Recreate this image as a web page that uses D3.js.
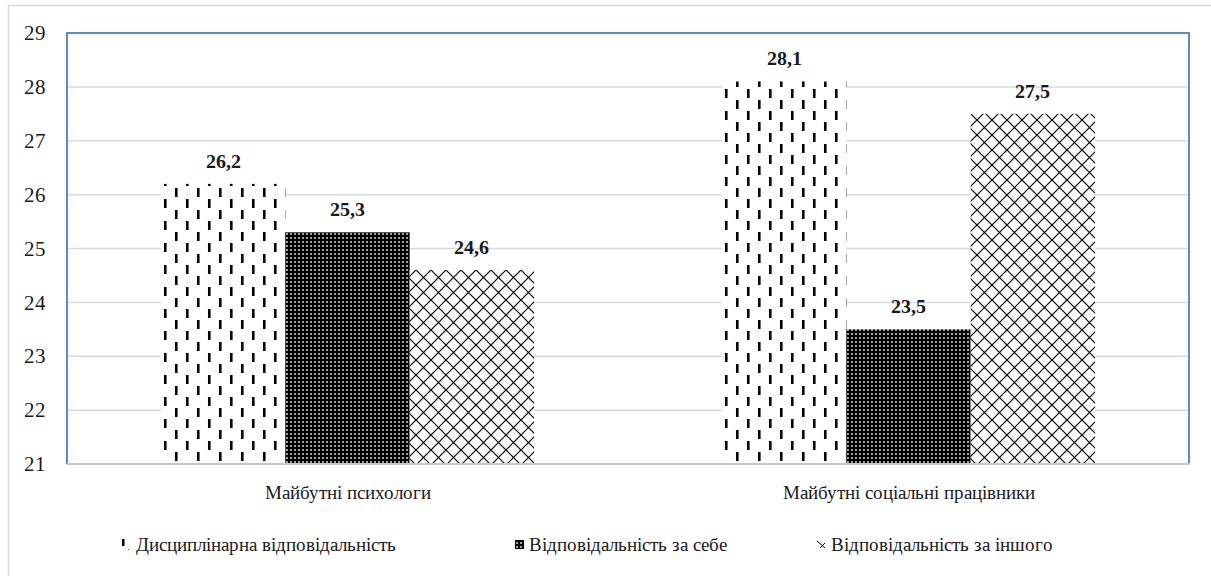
<!DOCTYPE html>
<html><head><meta charset="utf-8">
<script src="https://cdn.jsdelivr.net/npm/d3@7"></script>
<style>
@font-face { font-family: "ChartSerif"; src: local("Liberation Serif"), local("LiberationSerif"), local("Tinos"), local("Times New Roman"); font-weight: 400; }
@font-face { font-family: "ChartSerif"; src: local("Liberation Serif Bold"), local("LiberationSerif-Bold"), local("Tinos Bold"), local("Times New Roman Bold"); font-weight: 700; }
</style>
</head>
<body style="margin:0;background:#fff"><svg id="c" width="1211" height="576"></svg>
<script>
const categories = ["Майбутні психологи", "Майбутні соціальні працівники"];
const seriesNames = ["Дисциплінарна відповідальність", "Відповідальність за себе", "Відповідальність за іншого"];
const discipline = [26.2, 28.1];
const selfResp = [25.3, 23.5];
const otherResp = [24.6, 27.5];
const yTicks = [21, 22, 23, 24, 25, 26, 27, 28, 29];

const seriesValues = [discipline, selfResp, otherResp];
const fmt = v => v.toFixed(1).replace(".", ",");
const FONT = "ChartSerif, 'Liberation Serif', Tinos, 'Times New Roman', serif";

const svg = d3.select("#c");
const m = {left: 67, right: 1189, top: 33, bottom: 464};

// patterns
const defs = svg.append("defs");
const p1 = defs.append("pattern").attr("id","pDash").attr("patternUnits","userSpaceOnUse")
  .attr("width",22).attr("height",22).attr("x",2).attr("y",0);
p1.append("rect").attr("width",22).attr("height",22).attr("fill","#fff");
p1.append("rect").attr("x",1).attr("y",1).attr("width",2.6).attr("height",9).attr("fill","#000");
p1.append("rect").attr("x",12).attr("y",12).attr("width",2.6).attr("height",9).attr("fill","#000");

const p2 = defs.append("pattern").attr("id","pDots").attr("patternUnits","userSpaceOnUse")
  .attr("width",4).attr("height",4);
p2.append("rect").attr("width",4).attr("height",4).attr("fill","#000");
p2.append("rect").attr("x",1.2).attr("y",1.2).attr("width",1.6).attr("height",1.6).attr("fill","#fff");

const p3 = defs.append("pattern").attr("id","pCross").attr("patternUnits","userSpaceOnUse")
  .attr("width",15).attr("height",15);
p3.append("rect").attr("width",15).attr("height",15).attr("fill","#fff");
p3.append("path").attr("d","M0,0L15,15M15,0L0,15M-1,14L1,16M14,-1L16,1")
  .attr("stroke","#000").attr("stroke-width",1.2).attr("fill","none");

const fills = ["url(#pDash)", "url(#pDots)", "url(#pCross)"];

// outer frame
svg.append("rect").attr("x",8.5).attr("y",5.5).attr("width",1240).attr("height",600)
  .attr("fill","none").attr("stroke","#d9d9d9").attr("stroke-width",1.5);

const x0 = d3.scaleBand().domain(categories).range([m.left, m.right])
  .paddingInner(0.335).paddingOuter(0.335/2);
const x1 = d3.scaleBand().domain(d3.range(seriesNames.length)).range([0, x0.bandwidth()]).padding(0);
const y = d3.scaleLinear().domain([21, 29]).range([m.bottom, m.top]);

// gridlines
svg.append("g").selectAll("line").data(yTicks.filter(t => t > 21 && t < 29)).join("line")
  .attr("x1", m.left).attr("x2", m.right)
  .attr("y1", d => y(d)).attr("y2", d => y(d))
  .attr("stroke","#d9d9d9").attr("stroke-width",1.5);

// y axis labels
const yAxis = d3.axisLeft(y).tickValues(yTicks).tickSize(0).tickPadding(21).tickFormat(d3.format("d"));
const ga = svg.append("g").attr("transform",`translate(${m.left},0)`).call(yAxis)
  .attr("font-family", null).attr("font-size", null);
ga.select(".domain").remove();
ga.selectAll("text").attr("fill","#1a1a1a").style("font-family",FONT).style("font-size","21px");

// bars
const groups = svg.append("g").selectAll("g").data(categories).join("g")
  .attr("transform", c => `translate(${x0(c)},0)`);
groups.each(function(c, ci){
  const g = d3.select(this);
  seriesValues.forEach((vals, si) => {
    const v = vals[ci];
    g.append("rect").attr("x", x1(si)).attr("width", x1.bandwidth())
      .attr("y", y(v)).attr("height", y(21) - y(v)).attr("fill", fills[si]);
    g.append("text").attr("x", x1(si) + x1.bandwidth()/2).attr("y", y(v) - 16)
      .attr("text-anchor","middle").style("font-size","20px").style("font-weight","bold")
      .style("font-family",FONT).attr("fill","#1a1a1a").text(fmt(v));
  });
});

// plot border (blue) and bottom axis
svg.append("path").attr("d",`M${m.left},${m.bottom}V${m.top}H${m.right}V${m.bottom}`)
  .attr("fill","none").attr("stroke","#5b8bc9").attr("stroke-width",2);
svg.append("line").attr("x1",m.left).attr("x2",m.right+1).attr("y1",m.bottom).attr("y2",m.bottom)
  .attr("stroke","#c8c8c8").attr("stroke-width",2);

// x axis labels
const xAxis = d3.axisBottom(x0).tickSize(0).tickPadding(22);
const gx = svg.append("g").attr("transform",`translate(0,${m.bottom})`).call(xAxis)
  .attr("font-family", null).attr("font-size", null);
gx.select(".domain").remove();
gx.selectAll("text").attr("fill","#1a1a1a").style("font-family",FONT).style("font-size","19px");

// legend
const legendX = [118, 511, 812];
const lg = svg.append("g").selectAll("g").data(seriesNames).join("g")
  .attr("transform",(d,i)=>`translate(${legendX[i]},545)`);
lg.filter((d,i)=>i===0).append("rect").attr("x",4).attr("y",-6).attr("width",2.5).attr("height",7).attr("fill","#000");
lg.filter((d,i)=>i===0).append("rect").attr("x",10).attr("y",4).attr("width",1).attr("height",1).attr("fill","#666");
lg.filter((d,i)=>i===1).append("rect").attr("x",4).attr("y",-5).attr("width",9).attr("height",9).attr("fill","url(#pDots)");
lg.filter((d,i)=>i===2).append("path").attr("d","M5,-4L13,3M8,3L13,-2")
  .attr("stroke","#000").attr("stroke-width",1).attr("fill","none");
lg.append("text").attr("x",(d,i)=>i===0?18:i===1?18:19).attr("y",0).attr("dy","0.32em")
  .style("font-size","19px").style("font-family",FONT)
  .attr("fill","#1a1a1a").text(d=>d);
</script></body></html>
